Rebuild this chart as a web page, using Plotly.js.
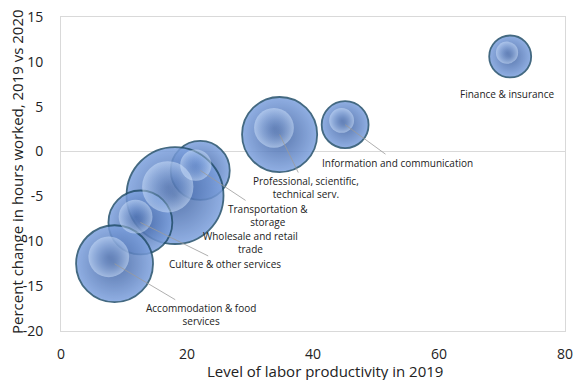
<!DOCTYPE html>
<html>
<head>
<meta charset="utf-8">
<script src="https://cdn.plot.ly/plotly-3.0.1.min.js"></script>
<style>html,body{margin:0;padding:0;background:#fff;}#chart{width:573px;height:380px;}</style>
</head>
<body>
<div id="chart"></div>
<script>
// Data
const sectors = ["Finance & insurance", "Information and communication", "Professional, scientific,<br>technical serv.", "Transportation &<br>storage", "Wholesale and retail<br>trade", "Culture & other services", "Accommodation & food<br>services"];
const productivity = [71.3, 45.1, 34.7, 22.1, 18.1, 12.6, 8.5];
const hoursChange = [10.6, 3.0, 1.9, -2.1, -4.9, -7.9, -12.5];
const bubbleSize = [4.4, 5.5, 14.1, 8.7, 23.5, 10.2, 14.8];
const yTickVals = [-20, -15, -10, -5, 0, 5, 10, 15];
const yTickText = ["-20", "-15", "-10", "-5", "0", "5", "10", "15"];
const xTickVals = [0, 20, 40, 60, 80];
const xTickText = ["0", "20", "40", "60", "80"];

const FONT = "'Open Sans', 'Noto Sans', sans-serif";
const W = 573, H = 380;
const M = {l: 61, r: 8, t: 17, b: 49};
const XR = [0, 80], YR = [-20, 15];
const SIZEREF = 0.005;

// label placement (pixel offsets from bubble centre)
const labelAx = [0, 52, 26, 68, 0, 85, 86];
const labelAy = [36, 38, 53, 45, 0, 42, 51];
const labelArrow = [false, true, true, true, false, true, true];

// pixel scale, used to place highlight glints relative to each bubble
const pxPerX = (W - M.l - M.r) / (XR[1] - XR[0]);
const pxPerY = (H - M.t - M.b) / (YR[1] - YR[0]);
const diam = bubbleSize.map(v => Math.sqrt(v / SIZEREF) / Math.SQRT2);

const bubbles = {
  type: "scatter", mode: "markers",
  x: productivity, y: hoursChange, text: sectors,
  marker: {
    size: bubbleSize, sizemode: "area", sizeref: SIZEREF,
    color: "#7ea2df",
    opacity: 0.85,
    gradient: {type: "radial", color: "#3c5f9f"},
    line: {color: "#234f6c", width: 1.8}
  },
  hoverinfo: "text"
};

const glints = {
  type: "scatter", mode: "markers",
  x: productivity.map((v, i) => v - 0.3 * diam[i] / 2 / pxPerX),
  y: hoursChange.map((v, i) => v + 0.36 * diam[i] / 2 / pxPerY),
  marker: {
    size: bubbleSize.map(v => v * 0.28), sizemode: "area", sizeref: SIZEREF,
    color: "rgba(214,232,255,0.7)",
    gradient: {type: "radial", color: "rgba(140,175,232,0)"},
    line: {width: 0}
  },
  hoverinfo: "skip"
};

const annotations = sectors.map((s, i) => {
  const f = {family: FONT, size: 10, color: "#222"};
  if (i === 4) {
    return {x: productivity[i], y: hoursChange[i], xref: "x", yref: "y", text: s, showarrow: false,
      xshift: 75, yshift: -47, font: f, align: "center"};
  }
  if (!labelArrow[i]) {
    return {x: productivity[i], y: hoursChange[i], xref: "x", yref: "y", text: s, showarrow: false,
      xshift: -3, yshift: -38, font: f, align: "center"};
  }
  return {
    x: productivity[i], y: hoursChange[i], xref: "x", yref: "y", text: s,
    showarrow: true, arrowhead: 0, arrowwidth: 0.8, arrowcolor: "#9a9a9a",
    ax: labelAx[i], ay: labelAy[i], standoff: 0, font: f, align: "center"
  };
});

annotations.push({
  xref: "paper", yref: "paper", x: (17 - M.l) / (W - M.l - M.r), y: (H - M.b - 172) / (H - M.t - M.b),
  text: "Percent change in hours worked, 2019 vs 2020", textangle: -90, showarrow: false,
  xanchor: "center", yanchor: "middle", font: {family: FONT, size: 15, color: "#222"}
});
annotations.push({
  xref: "paper", yref: "paper", x: (325 - M.l) / (W - M.l - M.r), y: -(371 - (H - M.b)) / (H - M.t - M.b),
  text: "Level of labor productivity in 2019", showarrow: false,
  xanchor: "center", yanchor: "middle", font: {family: FONT, size: 15, color: "#222"}
});

const layout = {
  width: W, height: H,
  margin: M,
  paper_bgcolor: "#fff", plot_bgcolor: "#fff",
  showlegend: false,
  font: {family: FONT, color: "#222"},
  xaxis: {
    range: XR, tickvals: xTickVals, ticktext: xTickText,
    showgrid: false, zeroline: false,
    showline: true, mirror: true, linecolor: "#d9d9d9", linewidth: 1,
    ticks: "outside", ticklen: 10, tickcolor: "rgba(0,0,0,0)",
    ticklabeloverflow: "allow",
    tickfont: {family: FONT, size: 14, color: "#222"}
  },
  yaxis: {
    range: YR, tickvals: yTickVals, ticktext: yTickText,
    showgrid: false, zeroline: true, zerolinecolor: "#d9d9d9", zerolinewidth: 1,
    showline: true, mirror: true, linecolor: "#d9d9d9", linewidth: 1,
    ticks: "outside", ticklen: 14, tickcolor: "rgba(0,0,0,0)",
    tickfont: {family: FONT, size: 14, color: "#222"}
  },
  annotations: annotations
};

Plotly.newPlot("chart", [bubbles, glints], layout, {displayModeBar: false, staticPlot: true});
</script>
</body>
</html>
